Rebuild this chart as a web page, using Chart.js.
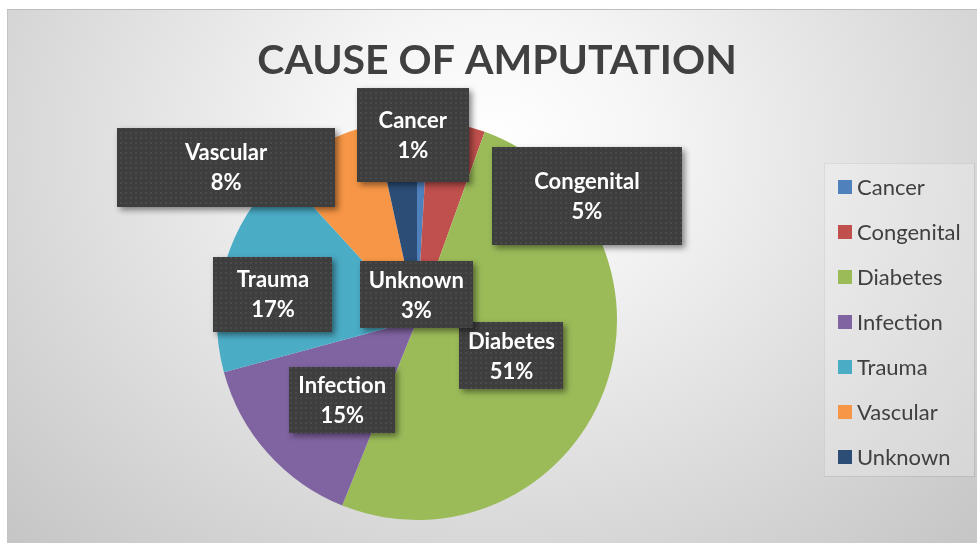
<!DOCTYPE html>
<html>
<head>
<meta charset="utf-8">
<script src="https://cdn.jsdelivr.net/npm/chart.js@4/dist/chart.umd.min.js"></script>
<style>
  html, body { margin: 0; padding: 0; background: #ffffff; width: 977px; height: 543px; overflow: hidden; }
  #frame {
    position: absolute; left: 7px; top: 9px; width: 970px; height: 534px;
    border-top: 1px solid #bdbdbd; border-left: 1px solid #c4c4c4;
    background: radial-gradient(ellipse farthest-corner at 50% 25%, #ffffff 0%, #f6f6f6 22%, #c5c5c5 100%);
  }
  #wrap { position: absolute; left: 0; top: 0; width: 970px; height: 534px; }
</style>
</head>
<body>
<div id="frame"><div id="wrap"><canvas id="c"></canvas></div></div>
<script>
// ---- data (percent shares; labels show rounded %) ----
const titleText = 'CAUSE OF AMPUTATION';
const categories = ['Cancer', 'Congenital', 'Diabetes', 'Infection', 'Trauma', 'Vascular', 'Unknown'];
const shareValues = [0.9, 4.6, 50.6, 14.7, 17.4, 8.4, 3.4];
const sliceColors = ['#4f81bd', '#c0504d', '#9bbb59', '#8064a2', '#4bacc6', '#f79646', '#2c4d75'];

// ---- label layout (offsets from each slice centroid, box sizes) ----
const labelOffsets = [[-7, -85], [150, -26], [1, 0], [0, 14], [-48, 2], [-145, -64], [10, 74]];
const labelBoxes = [[112, 94], [190, 98], [104, 67], [106, 66], [119, 75], [218, 79], [113, 67]];

function makePattern(ctx) {
  const pc = document.createElement('canvas');
  pc.width = 5; pc.height = 5;
  const p = pc.getContext('2d');
  p.fillStyle = '#3e3e3e';
  p.fillRect(0, 0, 5, 5);
  p.fillStyle = '#4a4a4a';
  p.fillRect(2, 2, 2, 2);
  return ctx.createPattern(pc, 'repeat');
}

const decor = {
  id: 'decor',
  beforeDraw(chart) {
    const ctx = chart.ctx;
    ctx.save();
    // title
    ctx.fillStyle = '#404040';
    ctx.font = 'bold 41px Lato';
    ctx.textAlign = 'center';
    ctx.textBaseline = 'middle';
    ctx.fillText(titleText, 489, 51);
    // legend panel
    ctx.fillStyle = 'rgba(255,255,255,0.22)';
    ctx.fillRect(816, 153, 150, 313);
    ctx.strokeStyle = 'rgba(0,0,0,0.07)';
    ctx.lineWidth = 1;
    ctx.strokeRect(816.5, 153.5, 150, 313);
    ctx.font = '22px Lato';
    ctx.textAlign = 'left';
    const ds = chart.data.datasets[0];
    chart.data.labels.forEach((lab, i) => {
      const y = 177 + 45 * i;
      ctx.fillStyle = ds.backgroundColor[i];
      ctx.fillRect(830, y - 7, 14, 14);
      ctx.fillStyle = '#404040';
      ctx.fillText(lab, 849, y + 1);
    });
    ctx.restore();
  },
  afterDatasetsDraw(chart) {
    const ctx = chart.ctx;
    const meta = chart.getDatasetMeta(0);
    const data = chart.data.datasets[0].data;
    const total = data.reduce((a, b) => a + b, 0);
    const pat = makePattern(ctx);
    meta.data.forEach((arc, i) => {
      const p = arc.tooltipPosition();
      const cx = p.x + labelOffsets[i][0];
      const cy = p.y + labelOffsets[i][1];
      const w = labelBoxes[i][0], h = labelBoxes[i][1];
      const x0 = Math.round(cx - w / 2), y0 = Math.round(cy - h / 2);
      ctx.save();
      ctx.shadowColor = 'rgba(0,0,0,0.45)';
      ctx.shadowBlur = 6;
      ctx.shadowOffsetX = 3;
      ctx.shadowOffsetY = 3;
      ctx.fillStyle = '#3e3e3e';
      ctx.fillRect(x0, y0, w, h);
      ctx.restore();
      ctx.save();
      ctx.fillStyle = pat;
      ctx.fillRect(x0, y0, w, h);
      ctx.fillStyle = '#ffffff';
      ctx.font = 'bold 22px Lato';
      ctx.textAlign = 'center';
      ctx.textBaseline = 'middle';
      const pct = Math.round(data[i] / total * 100) + '%';
      ctx.fillText(chart.data.labels[i], cx, cy - 14);
      ctx.fillText(pct, cx, cy + 16);
      ctx.restore();
    });
  }
};

new Chart(document.getElementById('c'), {
  type: 'pie',
  data: {
    labels: categories,
    datasets: [{
      data: shareValues,
      backgroundColor: sliceColors,
      borderWidth: 0,
      hoverOffset: 0
    }]
  },
  options: {
    responsive: true,
    maintainAspectRatio: false,
    devicePixelRatio: 1,
    animation: false,
    layout: { padding: { left: 209, right: 361, top: 110, bottom: 24 } },
    plugins: {
      legend: { display: false },
      title: { display: false },
      tooltip: { enabled: false }
    },
    events: []
  },
  plugins: [decor]
});
</script>
</body>
</html>
